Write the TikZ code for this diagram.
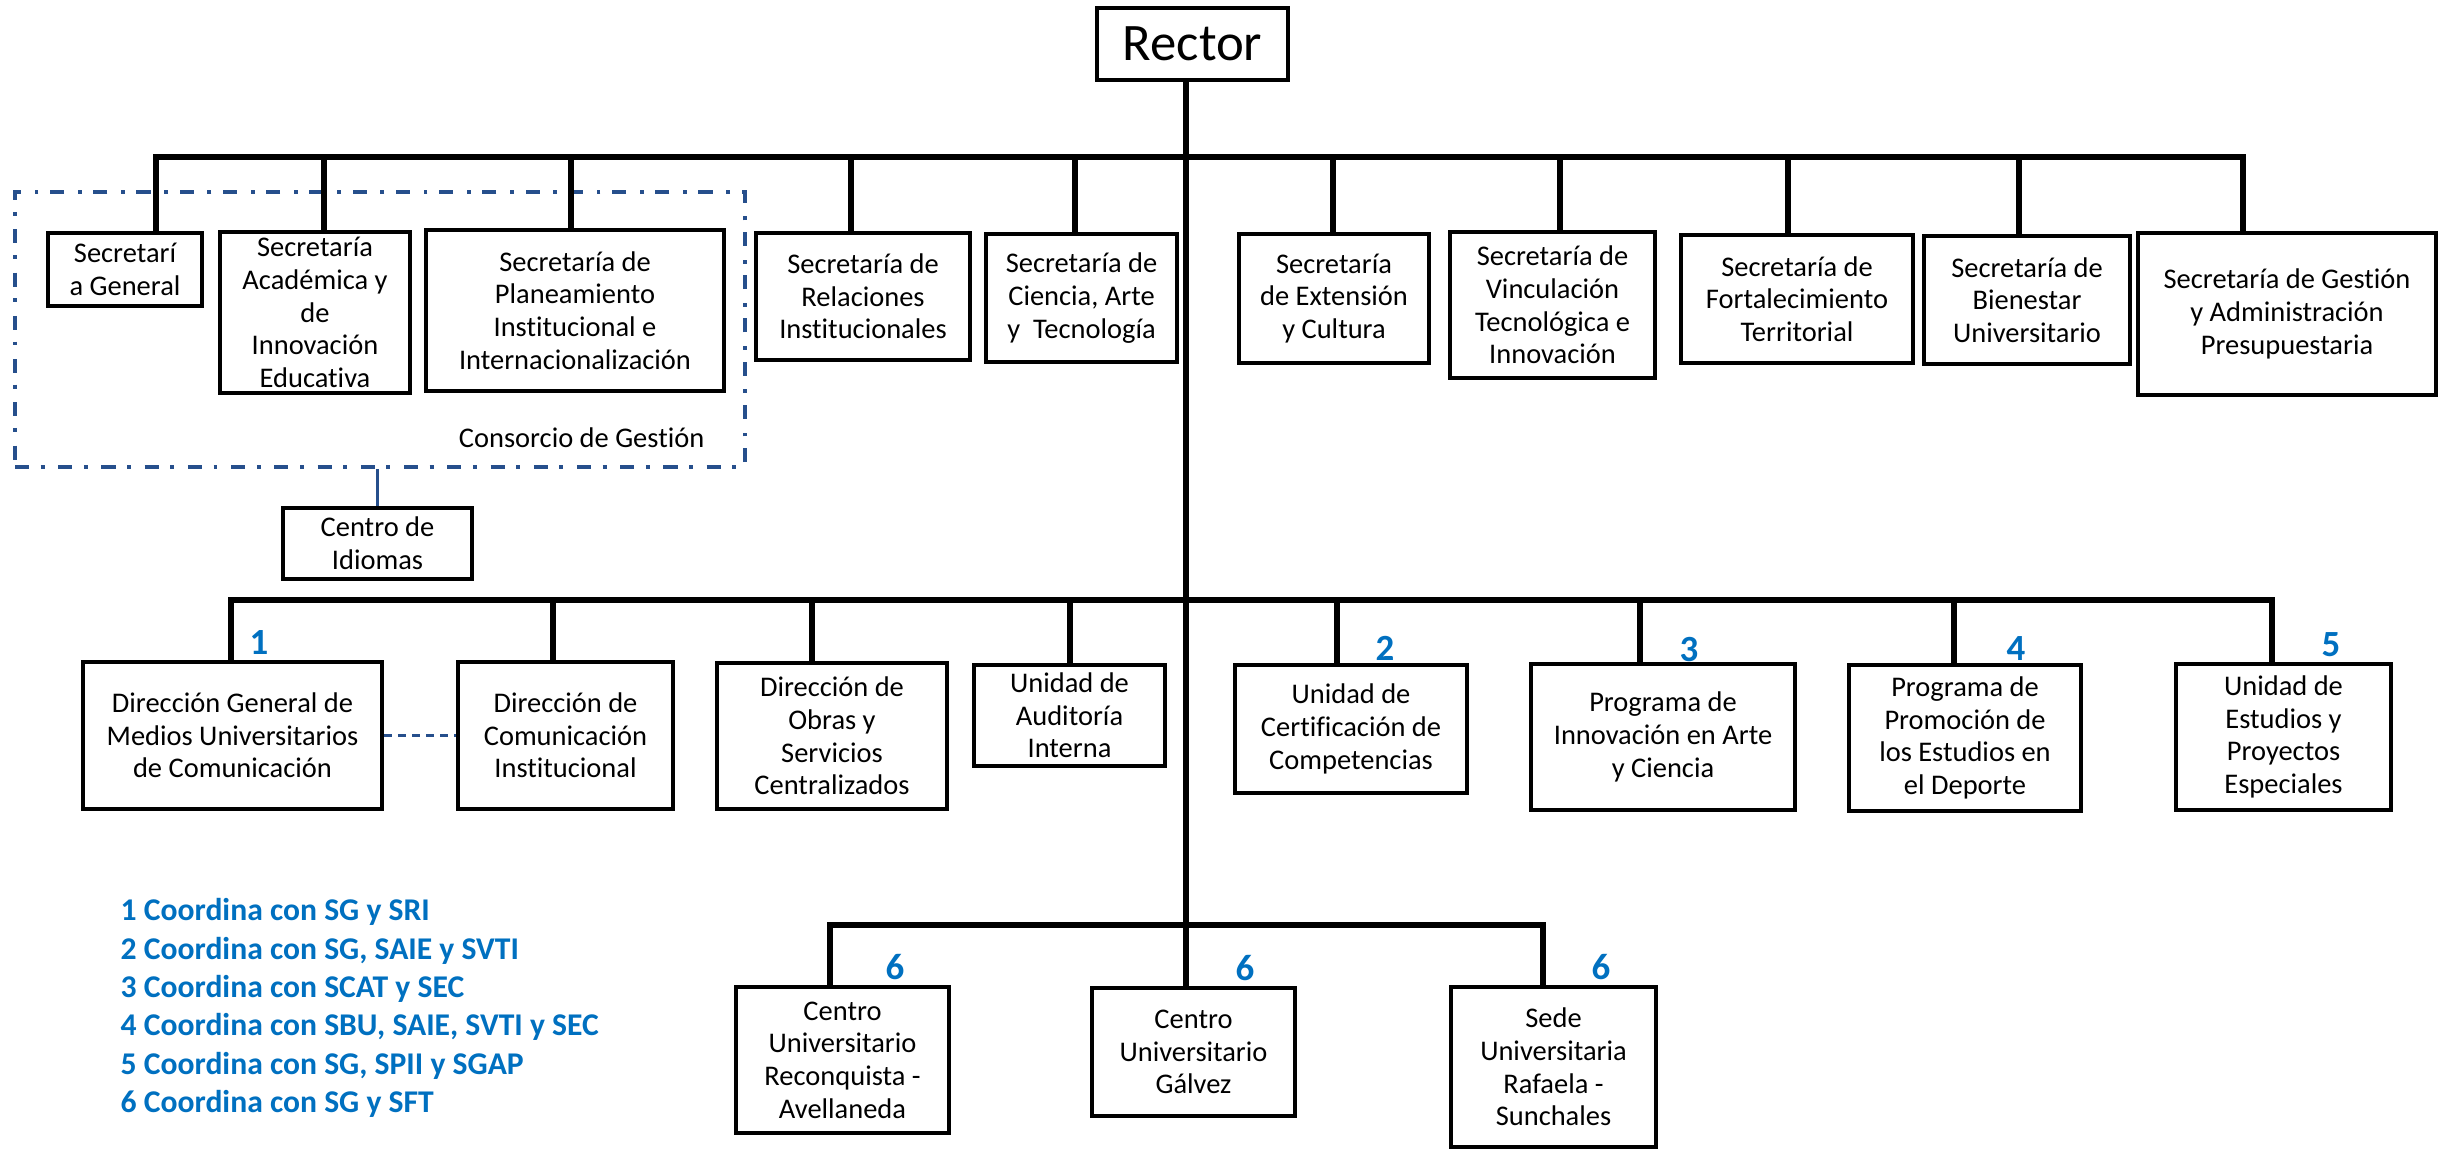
\documentclass[tikz,border=0pt]{standalone}
\usepackage{fontspec}
\setmainfont[Ligatures=NoCommon]{Carlito}
\definecolor{azulcons}{RGB}{38,79,140}
\definecolor{azulnota}{RGB}{0,112,192}

\begin{document}
\begin{tikzpicture}[
                x=0.1mm, y=-0.1mm,
                font=\fontsize{8.1}{9.3}\selectfont,
                caja/.style={rectangle, draw, line width=1.1pt, align=center, inner sep=0pt},
                rama/.style={line width=1.6pt, line cap=rect},
                numero/.style={text=azulnota, inner sep=0pt, font=\bfseries\fontsize{10.5}{12}\selectfont},
                nota/.style={text=azulnota, inner sep=0pt, align=left, font=\bfseries\fontsize{9}{10.9}\selectfont},
                consorcio/.style={rectangle, draw=azulcons, line width=1.1pt, dash pattern=on 4pt off 3.3pt on 1.1pt off 3.9pt}
            ]
                \useasboundingbox (0,0) rectangle (2440,1149);

                % rector
                \node[caja, minimum width=19.1mm, minimum height=7.2mm, font=\fontsize{15}{18}\selectfont] (rector) at (1192.5,44) {Rector};

                % secretarias
                \node[consorcio, minimum width=73mm, minimum height=27.5mm] (cons) at (380,329.5) {};
                \node[anchor=east, inner sep=0pt] (consnombre) at (705,438) {Consorcio de Gestión};
                \node[caja, minimum width=15.4mm, minimum height=7.3mm] (sg) at (125,269.5) {Secretarí\\a General};
                \node[caja, minimum width=19mm, minimum height=16.1mm] (saie) at (315,312.5) {Secretaría\\Académica y\\de\\Innovación\\Educativa};
                \node[caja, minimum width=29.8mm, minimum height=16.1mm] (spii) at (575,310.5) {Secretaría de\\Planeamiento\\Institucional e\\Internacionalización};
                \node[caja, minimum width=21.4mm, minimum height=12.7mm] (sri) at (863,296.5) {Secretaría de\\Relaciones\\Institucionales};
                \node[caja, minimum width=19.1mm, minimum height=12.8mm] (scat) at (1081.5,298) {Secretaría de\\Ciencia, Arte\\y~~Tecnología};
                \node[caja, minimum width=19mm, minimum height=12.9mm] (sec) at (1334,298.5) {Secretaría\\de Extensión\\y Cultura};
                \node[caja, minimum width=20.5mm, minimum height=14.6mm] (svti) at (1552.5,305) {Secretaría de\\Vinculación\\Tecnológica e\\Innovación};
                \node[caja, minimum width=23.2mm, minimum height=12.8mm] (sft) at (1797,299) {Secretaría de\\Fortalecimiento\\Territorial};
                \node[caja, minimum width=20.6mm, minimum height=12.8mm] (sbu) at (2027,300) {Secretaría de\\Bienestar\\Universitario};
                \node[caja, minimum width=29.8mm, minimum height=16.2mm] (sgap) at (2287,314) {Secretaría de Gestión\\y Administración\\Presupuestaria};
                \node[caja, minimum width=18.9mm, minimum height=7.1mm] (cdi) at (377.5,543.5) {Centro de\\Idiomas};

                % direcciones, unidades y programas
                \node[caja, minimum width=29.9mm, minimum height=14.7mm] (dgm) at (232.5,735.5) {Dirección General de\\Medios Universitarios\\de Comunicación};
                \node[caja, minimum width=21.5mm, minimum height=14.7mm] (dci) at (565.5,735.5) {Dirección de\\Comunicación\\Institucional};
                \node[caja, minimum width=23mm, minimum height=14.6mm] (dosc) at (832,736) {Dirección de\\Obras y\\Servicios\\Centralizados};
                \node[caja, minimum width=19.1mm, minimum height=10.1mm] (uai) at (1069.5,715.5) {Unidad de\\Auditoría\\Interna};
                \node[caja, minimum width=23.2mm, minimum height=12.8mm] (ucc) at (1351,729) {Unidad de\\Certificación de\\Competencias};
                \node[caja, minimum width=26.4mm, minimum height=14.6mm] (piac) at (1663,737) {Programa de\\Innovación en Arte\\y Ciencia};
                \node[caja, minimum width=23.2mm, minimum height=14.6mm] (pped) at (1965,738) {Programa de\\Promoción de\\los Estudios en\\el Deporte};
                \node[caja, minimum width=21.5mm, minimum height=14.6mm] (uepe) at (2283.5,737) {Unidad de\\Estudios y\\Proyectos\\Especiales};

                % sedes
                \node[caja, minimum width=21.3mm, minimum height=14.6mm] (cura) at (842.5,1060) {Centro\\Universitario\\Reconquista -\\Avellaneda};
                \node[caja, minimum width=20.3mm, minimum height=12.8mm] (cug) at (1193.5,1052) {Centro\\Universitario\\Gálvez};
                \node[caja, minimum width=20.5mm, minimum height=16mm] (surs) at (1553.5,1067) {Sede\\Universitaria\\Rafaela -\\Sunchales};

                % lineas
                \draw[rama] (1186,0 |- rector.south) -- (1186,925);
                \draw[rama] (156,0 |- sg.north) -- (156,157) -- (2243,157) -- (2243,0 |- sgap.north);
                \draw[rama] (324,157) -- (324,0 |- saie.north);
                \draw[rama] (571,157) -- (571,0 |- spii.north);
                \draw[rama] (851,157) -- (851,0 |- sri.north);
                \draw[rama] (1075,157) -- (1075,0 |- scat.north);
                \draw[rama] (1333,157) -- (1333,0 |- sec.north);
                \draw[rama] (1560,157) -- (1560,0 |- svti.north);
                \draw[rama] (1788,157) -- (1788,0 |- sft.north);
                \draw[rama] (2019,157) -- (2019,0 |- sbu.north);
                \draw[azulcons, line width=0.9pt] (cdi.north |- cons.south) -- (cdi.north);

                \draw[rama] (231,0 |- dgm.north) -- (231,600) -- (2272,600) -- (2272,0 |- uepe.north);
                \draw[rama] (553,600) -- (553,0 |- dci.north);
                \draw[rama] (812,600) -- (812,0 |- dosc.north);
                \draw[rama] (1070,600) -- (1070,0 |- uai.north);
                \draw[rama] (1337,600) -- (1337,0 |- ucc.north);
                \draw[rama] (1640,600) -- (1640,0 |- piac.north);
                \draw[rama] (1954,600) -- (1954,0 |- pped.north);
                \draw[azulcons, line width=0.7pt, dash pattern=on 2.3pt off 1.7pt] (dgm.east) -- (dci.west);

                \draw[rama] (830,0 |- cura.north) -- (830,925) -- (1543,925) -- (1543,0 |- surs.north);
                \draw[rama] (1186,925) -- (1186,0 |- cug.north);

                % numeros de coordinacion
                \node[numero] (n1) at (259,643) {1};
                \node[numero] (n2) at (1385,648) {2};
                \node[numero] (n3) at (1689,650) {3};
                \node[numero] (n4) at (2016,649) {4};
                \node[numero] (n5) at (2331,645) {5};
                \node[numero] (n6a) at (895,967) {6};
                \node[numero] (n6b) at (1245,968) {6};
                \node[numero] (n6c) at (1601,967) {6};

                \node[nota, anchor=north west] (notas) at (120,898) {1 Coordina con SG y SRI\\2 Coordina con SG, SAIE y SVTI\\3 Coordina con SCAT y SEC\\4 Coordina con SBU, SAIE, SVTI y SEC\\5 Coordina con SG, SPII y SGAP\\6 Coordina con SG y SFT};
            \end{tikzpicture}
\end{document}
